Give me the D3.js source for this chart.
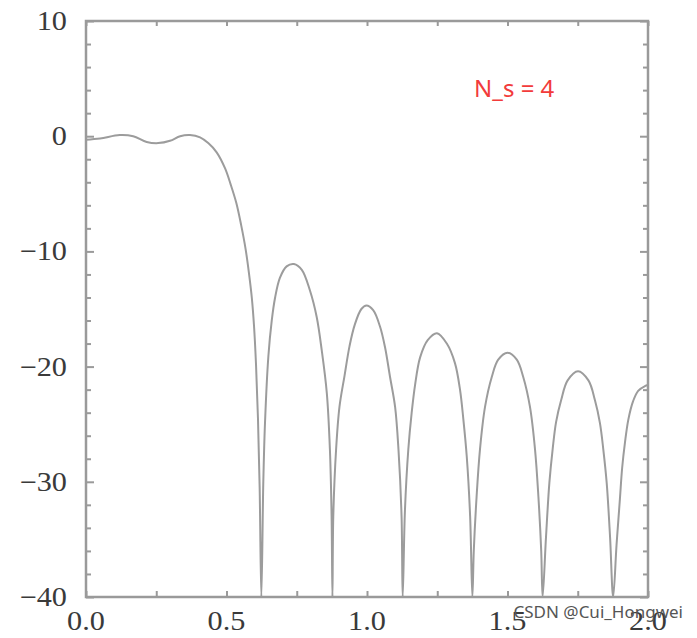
<!DOCTYPE html>
<html><head><meta charset="utf-8">
<script src="https://cdn.jsdelivr.net/npm/d3@7"></script>
<style>body{margin:0;background:#fff}svg{display:block}</style>
</head><body><svg id="c" width="697" height="638"></svg>
<script>
const freq = [0.000,0.050,0.120,0.168,0.216,0.257,0.299,0.335,0.370,0.406,0.435,0.465,0.495,0.515,0.535,0.552,0.568,0.580,0.590,0.598,0.605,0.612,0.618,0.624,
 0.631,0.637,0.649,0.661,0.673,0.690,0.714,0.740,0.768,0.797,0.821,0.839,0.857,0.868,0.874,0.877,
 0.880,0.890,0.902,0.920,0.938,0.956,0.980,0.998,1.022,1.046,1.064,1.082,1.100,1.112,1.123,1.127,
 1.135,1.147,1.159,1.171,1.189,1.216,1.249,1.284,1.313,1.331,1.343,1.355,1.367,1.375,
 1.380,1.390,1.402,1.420,1.444,1.467,1.500,1.533,1.556,1.580,1.598,1.610,1.620,1.625,
 1.637,1.649,1.661,1.673,1.691,1.714,1.751,1.788,1.811,1.829,1.841,1.853,1.865,1.876,
 1.888,1.900,1.908,1.918,1.930,1.947,1.965,1.989,2.000];
const gain = [-0.3,-0.2,0.1,0.0,-0.5,-0.6,-0.4,0.0,0.1,-0.1,-0.6,-1.4,-2.8,-4.2,-5.8,-7.7,-9.8,-11.9,-14.0,-16.5,-19.8,-24.5,-30.5,-40,
 -30.0,-24.9,-19.1,-16.0,-14.0,-12.3,-11.3,-11.1,-11.6,-13.4,-15.7,-18.6,-22.3,-27.2,-33.0,-40,
 -33.0,-27.2,-23.5,-20.8,-18.2,-16.4,-15.0,-14.7,-15.1,-16.5,-18.3,-20.9,-23.5,-27.2,-33.0,-40,
 -32.5,-27.2,-24.0,-21.6,-19.2,-17.7,-17.1,-18.0,-19.7,-22.0,-24.6,-27.8,-33.0,-40,
 -36.0,-31.3,-27.2,-23.5,-20.9,-19.4,-18.8,-19.4,-20.9,-23.5,-27.2,-31.3,-36.0,-40,
 -34.8,-30.1,-27.1,-24.8,-22.9,-21.2,-20.4,-21.2,-22.9,-24.9,-27.2,-30.1,-34.8,-40,
 -35.5,-31.5,-28.8,-26.6,-24.6,-23.0,-22.1,-21.7,-21.6];
const xTickLabels = ["0.0","0.5","1.0","1.5","2.0"];
const yTickLabels = ["10","0","\u221210","\u221220","\u221230","\u221240"];
const xTickVals = [0,0.5,1,1.5,2];
const yTickVals = [10,0,-10,-20,-30,-40];
const annotation = "N_s = 4";
const watermark = "CSDN @Cui_Hongwei";

const L=86,R=648,T=21,B=597;
const svg=d3.select("#c");
const x=d3.scaleLinear().domain([0,2]).range([L,R]);
const y=d3.scaleLinear().domain([-40,10]).range([B,T]);
const axisCol="#9a9a9a";

svg.append("clipPath").attr("id","clip").append("rect").attr("x",L).attr("y",T).attr("width",R-L).attr("height",B-T);

const pts=freq.map((f,i)=>[f,gain[i]]);
svg.append("path").datum(pts).attr("clip-path","url(#clip)")
 .attr("fill","none").attr("stroke","#9c9c9c").attr("stroke-width",2)
 .attr("d",d3.line().x(d=>x(d[0])).y(d=>y(d[1])).curve(d3.curveCatmullRom.alpha(0.5)));

const xMinor=d3.range(0,2.001,0.25), yMinor=d3.range(-40,10.001,2);
const isMajY=v=>Math.abs(v/10-Math.round(v/10))<1e-6;
function drawTicks(g){g.select(".domain").remove();g.selectAll("line").attr("stroke",axisCol).attr("stroke-width",2);g.selectAll("text").remove();}
svg.append("g").attr("transform",`translate(0,${B})`).call(d3.axisBottom(x).tickValues(xMinor).tickSizeInner(-6).tickSizeOuter(0)).call(drawTicks);
svg.append("g").attr("transform",`translate(0,${T})`).call(d3.axisTop(x).tickValues(xMinor).tickSizeInner(-5).tickSizeOuter(0)).call(drawTicks);
svg.append("g").attr("transform",`translate(${L},0)`).call(d3.axisLeft(y).tickValues(yMinor).tickSizeInner(-5).tickSizeOuter(0)).call(drawTicks)
 .selectAll(".tick line").attr("x2",d=>isMajY(d)?8:5);
svg.append("g").attr("transform",`translate(${R},0)`).call(d3.axisRight(y).tickValues(yMinor).tickSizeInner(-5).tickSizeOuter(0)).call(drawTicks)
 .selectAll(".tick line").attr("x2",d=>isMajY(d)?-8:-5);

svg.append("rect").attr("x",L).attr("y",T).attr("width",R-L).attr("height",B-T)
 .attr("fill","none").attr("stroke",axisCol).attr("stroke-width",2.5);

function styleLab(t){t.style("font-family","'Liberation Serif','DejaVu Serif',serif").style("font-size","27px").style("fill","#3a3a3a");
 const w=t.node().getComputedTextLength(); t.attr("textLength",w*1.12).attr("lengthAdjust","spacingAndGlyphs");}
const yl=svg.append("g");
yTickVals.forEach((v,i)=>{styleLab(yl.append("text").attr("x",67).attr("y",y(v)+9).attr("text-anchor","end").text(yTickLabels[i]));});
const xl=svg.append("g");
xTickVals.forEach((v,i)=>{styleLab(xl.append("text").attr("x",x(v)).attr("y",630).attr("text-anchor","middle").text(xTickLabels[i]));});

svg.append("text").attr("x",474).attr("y",97).text(annotation)
 .style("font-family","'Noto Sans',sans-serif").style("font-size","24px").style("fill","#f23b3b");

svg.append("text").attr("x",683).attr("y",618).attr("text-anchor","end").text(watermark)
 .style("font-family","'Noto Sans',sans-serif").style("font-size","17px").style("fill","#555");
</script></body></html>
